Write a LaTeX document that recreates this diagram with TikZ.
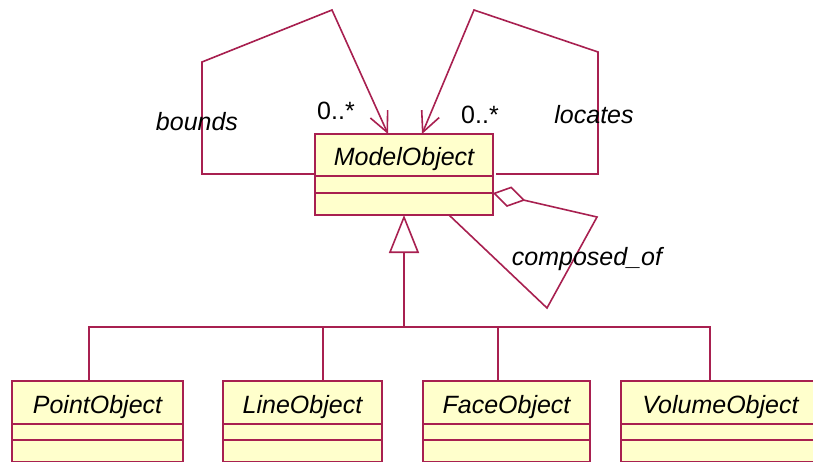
\documentclass[tikz,border=0pt]{standalone}
\usepackage{fontspec}
\setmainfont{Liberation Sans}
\usetikzlibrary{arrows.meta}
\definecolor{umlred}{RGB}{168,32,80}
\definecolor{umlfill}{RGB}{255,255,204}
\tikzset{
  classbox/.style={draw=umlred, fill=umlfill, line width=1.6pt, inner sep=0pt, outer sep=0pt, anchor=north},
  classname/.style={classbox, font=\fontsize{25}{29}\selectfont\itshape, text height=21pt, text depth=0pt},
  link/.style={draw=umlred, line width=1.6pt, line join=miter},
  navi/.style={link, -{Straight Barb[length=20pt,width=19pt]}},
  gen/.style={link, -{Triangle[open,length=38pt,width=30pt]}},
  aggr/.style={link, {Diamond[open,length=33pt,width=21pt]}-},
  role/.style={font=\fontsize{25}{29}\selectfont\itshape, inner sep=0pt},
  mult/.style={font=\fontsize{25}{29}\selectfont, inner sep=0pt}
}
\begin{document}
\begin{tikzpicture}[x=1pt,y=-1pt]
    \clip (0,0) rectangle (813,461);
    \fill[white] (0,0) rectangle (813,461);

    %ModelObject
    \node[classname, minimum width=178pt, minimum height=42pt] (model) at (404,134) {ModelObject};
    \node[classbox, minimum width=178pt, minimum height=17pt] (model2) at (model.south) {};
    \node[classbox, minimum width=178pt, minimum height=22pt] (model3) at (model2.south) {};

    %subclasses
    \node[classname, minimum width=171pt, minimum height=43pt] (point) at (97.5,381) {PointObject};
    \node[classbox, minimum width=171pt, minimum height=16pt] (point2) at (point.south) {};
    \node[classbox, minimum width=171pt, minimum height=22pt] (point3) at (point2.south) {};

    \node[classname, minimum width=159pt, minimum height=43pt] (line) at (302.5,381) {LineObject};
    \node[classbox, minimum width=159pt, minimum height=16pt] (line2) at (line.south) {};
    \node[classbox, minimum width=159pt, minimum height=22pt] (line3) at (line2.south) {};

    \node[classname, minimum width=167pt, minimum height=43pt] (face) at (506.5,381) {FaceObject};
    \node[classbox, minimum width=167pt, minimum height=16pt] (face2) at (face.south) {};
    \node[classbox, minimum width=167pt, minimum height=22pt] (face3) at (face2.south) {};

    \node[classname, minimum width=199pt, minimum height=43pt] (volume) at (720.5,381) {VolumeObject};
    \node[classbox, minimum width=199pt, minimum height=16pt] (volume2) at (volume.south) {};
    \node[classbox, minimum width=199pt, minimum height=22pt] (volume3) at (volume2.south) {};

    %bends
    \coordinate (boundsa) at (202,62);
    \coordinate (boundsb) at (332,10);
    \coordinate (locatesa) at (598,52);
    \coordinate (locatesb) at (474,10);
    \coordinate (compa) at (597,217);
    \coordinate (compb) at (547,308);
    \coordinate (bus) at (404,327);

    %associations
    \draw[navi] ([yshift=2pt]model.south west) -| (boundsa) -- (boundsb) -- ([xshift=-16pt]model.north);
    \draw[navi] ([xshift=3pt,yshift=2pt]model.south east) -| (locatesa) -- (locatesb) -- ([xshift=18pt]model.north);
    \draw[aggr] (model3.north east) -- (compa) -- (compb) -- ([xshift=45pt]model3.south);

    %generalization
    \draw[gen] (bus) -- (model3.south);
    \draw[link] (bus) -| ([xshift=-8.5pt]point.north);
    \draw[link] (bus) -| ([xshift=20.5pt]line.north);
    \draw[link] (bus) -| ([xshift=-8.5pt]face.north);
    \draw[link] (bus) -| ([xshift=-10.5pt]volume.north);

    %labels
    \node[role] (boundslbl) at (197,122) {bounds};
    \node[role] (locateslbl) at (594,115) {locates};
    \node[role] (complbl) at (587,259) {composed\_of};
    \node[mult] (boundsmult) at (336,111) {0..*};
    \node[mult] (locatesmult) at (480,115) {0..*};
\end{tikzpicture}
\end{document}
